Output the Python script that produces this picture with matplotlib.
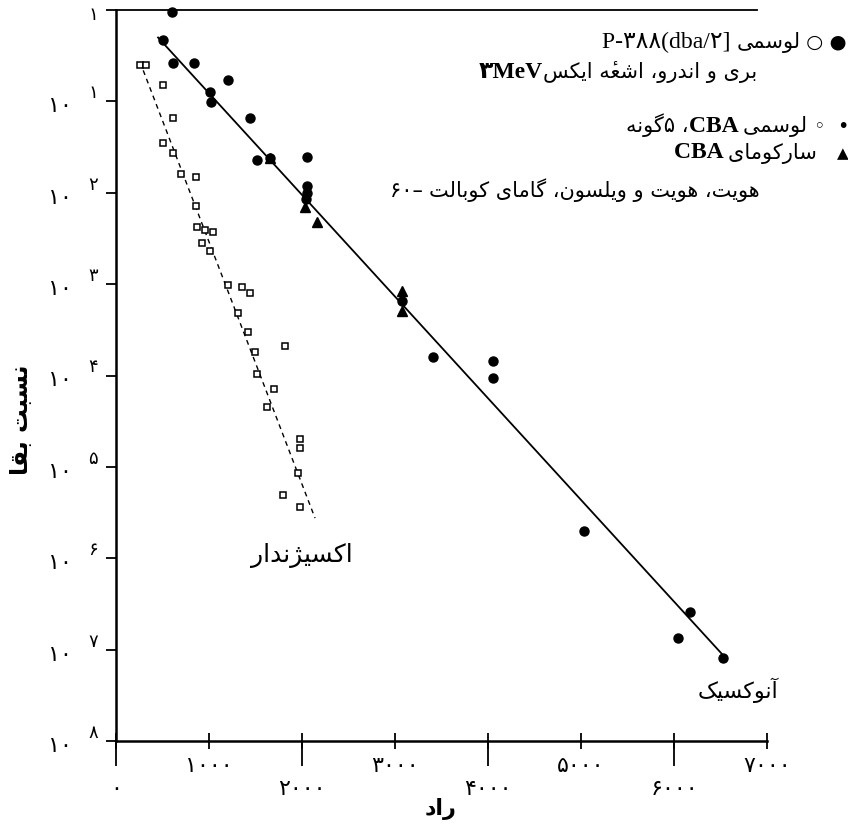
import numpy as np
import matplotlib
matplotlib.use("Agg")
import matplotlib.pyplot as plt
from matplotlib import font_manager, ft2font
from matplotlib.offsetbox import TextArea, HPacker, AnnotationBbox

# anoxic (filled dots / triangles) and oxygenated (open squares), dose in rad
anox_dot_x = [505, 602, 613, 839, 1204, 1011, 1021, 1441, 1516, 1656, 2054, 2054, 2054, 2040,
              3075, 3409, 4054, 4054, 5032, 6172, 6043, 6527]
anox_dot_y = [0.47, 0.95, 0.26, 0.26, 0.17, 0.126, 0.098, 0.066, 0.023, 0.024, 0.0245, 0.012, 0.010, 0.0085,
              6.6e-4, 1.6e-4, 1.45e-4, 9.3e-5, 2.0e-6, 2.6e-7, 1.35e-7, 8.1e-8]
tri_x = [1656, 2032, 2161, 3075, 3075]
tri_y = [0.024, 0.0069, 0.0048, 8.5e-4, 5.1e-4]
oxy_x = [258, 323, 505, 613, 505, 613, 699, 860, 860, 871, 957, 1043, 925, 1011, 1204, 1355, 1441,
         1312, 1420, 1495, 1817, 1516, 1699, 1624, 1978, 1978, 1957, 1796, 1978]
oxy_y = [0.25, 0.25, 0.15, 0.066, 0.035, 0.027, 0.016, 0.0148, 0.0072, 0.0042, 0.0039, 0.0037, 0.0028,
         0.0023, 9.8e-4, 9.3e-4, 7.9e-4, 4.8e-4, 3.0e-4, 1.8e-4, 2.1e-4, 1.05e-4, 7.2e-5, 4.5e-5,
         2.0e-5, 1.6e-5, 8.5e-6, 4.9e-6, 3.6e-6]
anox_fit_x = [452, 6527]
anox_fit_y = [0.50, 8.7e-8]
oxy_fit_x = [258, 2140]
oxy_fit_y = [0.27, 2.75e-6]

xticks = [0, 1000, 2000, 3000, 4000, 5000, 6000, 7000]
xticklabels = ["\n۰", "۱۰۰۰", "\n۲۰۰۰", "۳۰۰۰", "\n۴۰۰۰", "۵۰۰۰", "\n۶۰۰۰", "۷۰۰۰"]
yticks = [1, 1e-1, 1e-2, 1e-3, 1e-4, 1e-5, 1e-6, 1e-7, 1e-8]
ytick_base = ["", "۱۰", "۱۰", "۱۰", "۱۰", "۱۰", "۱۰", "۱۰", "۱۰"]
ytick_exp = ["۱", "۱", "۲", "۳", "۴", "۵", "۶", "۷", "۸"]

# --- minimal persian shaping (matplotlib does no arabic shaping / bidi) ---
FORMS = {
    'ا': 'ﺍﺎ', 'آ': 'ﺁﺂ', 'د': 'ﺩﺪ', 'ر': 'ﺭﺮ', 'ز': 'ﺯﺰ', 'ژ': 'ﮊﮋ', 'و': 'ﻭﻮ',
    'ب': 'ﺏﺐﺑﺒ', 'پ': 'ﭖﭗﭘﭙ', 'ت': 'ﺕﺖﺗﺘ', 'س': 'ﺱﺲﺳﺴ', 'ش': 'ﺵﺶﺷﺸ', 'ع': 'ﻉﻊﻋﻌ',
    'ق': 'ﻕﻖﻗﻘ', 'ک': 'ﮎﮏﮐﮑ', 'گ': 'ﮒﮓﮔﮕ', 'ل': 'ﻝﻞﻟﻠ', 'م': 'ﻡﻢﻣﻤ', 'ن': 'ﻥﻦﻧﻨ',
    'ه': 'ﻩﻪﻫﻬ', 'ی': 'ﯼﯽﯾﯿ',
}
MARKS = '\u064b\u064c\u064d\u064e\u064f\u0650\u0651\u0652\u0654'
_font = ft2font.FT2Font(font_manager.findfont('DejaVu Sans'))


def _pick(base, form):
    return form if _font.get_char_index(ord(form)) != 0 else base


def fa(s):
    letters = [c for c in s if c not in MARKS]
    clusters = []
    k = 0
    for c in s:
        if c in MARKS:
            clusters[-1] += c
            continue
        prev = letters[k - 1] if k > 0 else ''
        nxt = letters[k + 1] if k + 1 < len(letters) else ''
        k += 1
        if c not in FORMS:
            clusters.append(c)
            continue
        f = FORMS[c]
        jp = prev in FORMS and len(FORMS[prev]) == 4
        jn = len(f) == 4 and nxt in FORMS
        if jp and jn:
            g = f[3]
        elif jp:
            g = f[1]
        elif jn:
            g = f[2]
        else:
            g = f[0]
        clusters.append(_pick(c, g))
    return ''.join(clusters[::-1])


FA = ['DejaVu Sans']
LAT = ['Liberation Serif', 'DejaVu Sans']

fig = plt.figure(figsize=(8.48, 8.25), dpi=100)
ax = fig.add_axes([116 / 848, 1 - 741 / 825, 651 / 848, 731 / 825])
ax.set_yscale('log')
ax.set_xlim(0, 7000)
ax.set_ylim(1e-8, 1)

ax.plot(anox_fit_x, anox_fit_y, color='black', lw=1.3)
ax.plot(oxy_fit_x, oxy_fit_y, color='black', lw=1.0, ls=(0, (3.5, 3)))
ax.plot(oxy_x, oxy_y, ls='none', marker='s', ms=5, mfc='white', mec='black', mew=1.1)
ax.plot(anox_dot_x, anox_dot_y, ls='none', marker='o', ms=6.5, color='black', clip_on=False)
ax.plot(tri_x, tri_y, ls='none', marker='^', ms=7.5, color='black')

for sp in ['right', 'top']:
    ax.spines[sp].set_visible(False)
ax.spines['left'].set_linewidth(1.8)
ax.spines['bottom'].set_linewidth(1.8)
ax.axhline(1, xmax=0.985, color='black', lw=1.3, clip_on=False)

# y ticks
ax.set_yticks(yticks)
ax.set_yticklabels([])
ax.yaxis.set_minor_locator(matplotlib.ticker.NullLocator())
ax.tick_params(axis='y', which='major', direction='out', length=7, width=1.3)
for v, b, e in zip(yticks, ytick_base, ytick_exp):
    ax.annotate(b, xy=(0, v), xycoords=('axes fraction', 'data'), xytext=(-44, -5),
                textcoords='offset pixels', ha='right', va='center', fontsize=16, family=FA)
    dy = -5 if b == "" else 8
    ax.annotate(e, xy=(0, v), xycoords=('axes fraction', 'data'), xytext=(-23, dy),
                textcoords='offset pixels', ha='center', va='center', fontsize=13, family=FA)

# x ticks: short crossing ticks with staggered labels, long ticks at even thousands
ax.xaxis.remove_overlapping_locs = False
ax.set_xticks(xticks)
ax.set_xticklabels(xticklabels, fontsize=16, family=FA, linespacing=1.15)
ax.set_xticks(xticks[::2], minor=True)
ax.tick_params(axis='x', which='major', direction='inout', length=12, width=1.3, pad=5)
ax.tick_params(axis='x', which='minor', direction='out', length=18, width=1.3)

ax.set_xlabel(fa("راد"), fontsize=16, family=FA, fontweight='bold')
ax.xaxis.set_label_coords(0.498, -0.078)
ax.set_ylabel(fa("نسبت بقا"), fontsize=17, family=FA, fontweight='bold')
ax.yaxis.set_label_coords(-0.128, 0.44)

ax.text(2000, 10 ** -5.97, fa("اکسیژندار"), ha='center', va='center', fontsize=18, family=FA)
ax.text(6688, 10 ** -7.45, fa("آنوکسیک"), ha='center', va='center', fontsize=16, family=FA)


def line(parts, xr, yc):
    kids = [TextArea(t, textprops=dict(fontsize=fs, family=fam, fontweight=w)) for t, fs, fam, w in parts]
    box = HPacker(children=kids, sep=0, align='baseline', pad=0)
    ab = AnnotationBbox(box, (xr / 848, 1 - yc / 825), xycoords='figure fraction',
                        box_alignment=(1, 0.5), frameon=False, pad=0)
    fig.add_artist(ab)


line([("P-۳۸۸(dba/۲] ", 17, LAT, 'normal'), (fa("لوسمی"), 15, FA, 'normal'),
      (" ○ ●", 14, FA, 'normal')], 847, 42)
line([("۳MeV", 17, LAT, 'bold'), (fa("بری و اندرو، اشعهٔ ایکس"), 15, FA, 'normal')], 757, 72)
line([(fa("گونه") + "۵ ،", 15, FA, 'normal'), ("CBA ", 17, LAT, 'bold'),
      (fa("لوسمی") + " ", 15, FA, 'normal'), ("◦  •", 14, FA, 'normal')], 849, 125)
line([("CBA ", 17, LAT, 'bold'), (fa("سارکومای") + "   ", 15, FA, 'normal'),
      ("▲", 11, FA, 'normal')], 849, 153)
line([("۶۰– ", 15, FA, 'normal'), (fa("هویت، هویت و ویلسون، گامای کوبالت"), 15, FA, 'normal')], 760, 190)

fig.savefig("out.png", dpi=100)
